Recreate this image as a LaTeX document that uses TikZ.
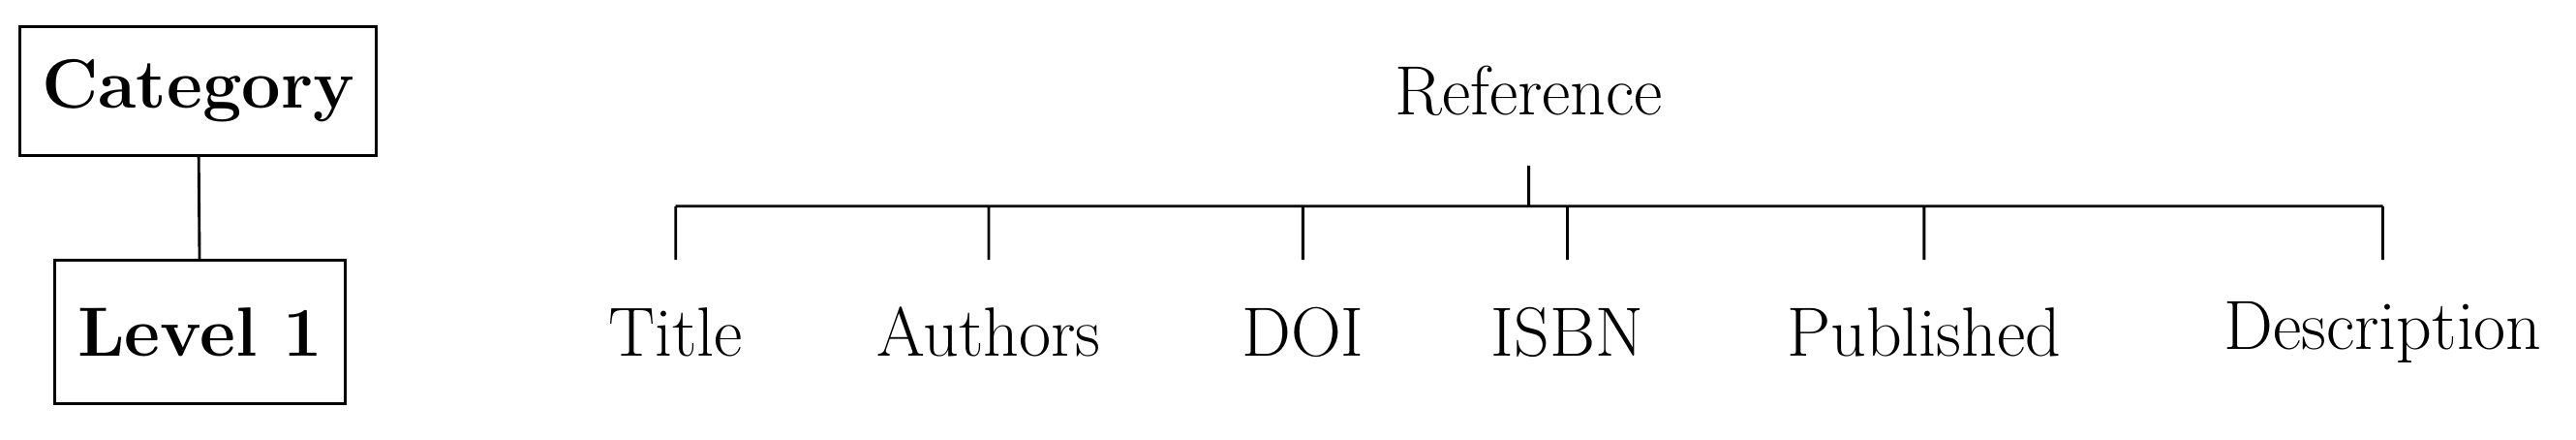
\documentclass[tikz,border=0pt]{standalone}
\usetikzlibrary{positioning}

\begin{document}
\begin{tikzpicture}[font=\fontsize{20}{24}\selectfont, line width=0.8pt,
    catbox/.style={draw, font=\fontsize{20}{24}\selectfont\bfseries, inner sep=0pt}]
                        \useasboundingbox (0, 0) rectangle (26, -4.43);

                        \node[catbox, minimum width=3.6cm, minimum height=1.3cm] (cat) at (2.0, -0.92) {Category};
                        \node[catbox, minimum width=2.93cm, minimum height=1.45cm] (lvl) at (2.02, -3.35) {Level 1};

                        \node (ref) at (15.43, -0.92) {Reference};

                        \node (title) at (6.82, -3.35) {Title};
                        \node (auth) at (9.98, -3.35) {Authors};
                        \node (doi) at (13.15, -3.35) {DOI};
                        \node (isbn) at (15.82, -3.35) {ISBN};
                        \node (pub) at (19.42, -3.35) {Published};
                        \node (desc) at (24.05, -3.35) {Description};

                        \coordinate (rtop) at (15.43, -1.67);
                        \coordinate (rbar) at (15.43, -2.08);

                        \draw
                        (cat) -- (lvl)

                        (rtop) -- (rbar)
                        (title |- rbar) -- (desc |- rbar)
                        (title |- rbar) -- ++(0, -0.54)
                        (auth |- rbar) -- ++(0, -0.54)
                        (doi |- rbar) -- ++(0, -0.54)
                        (isbn |- rbar) -- ++(0, -0.54)
                        (pub |- rbar) -- ++(0, -0.54)
                        (desc |- rbar) -- ++(0, -0.54);
                    \end{tikzpicture}
\end{document}
